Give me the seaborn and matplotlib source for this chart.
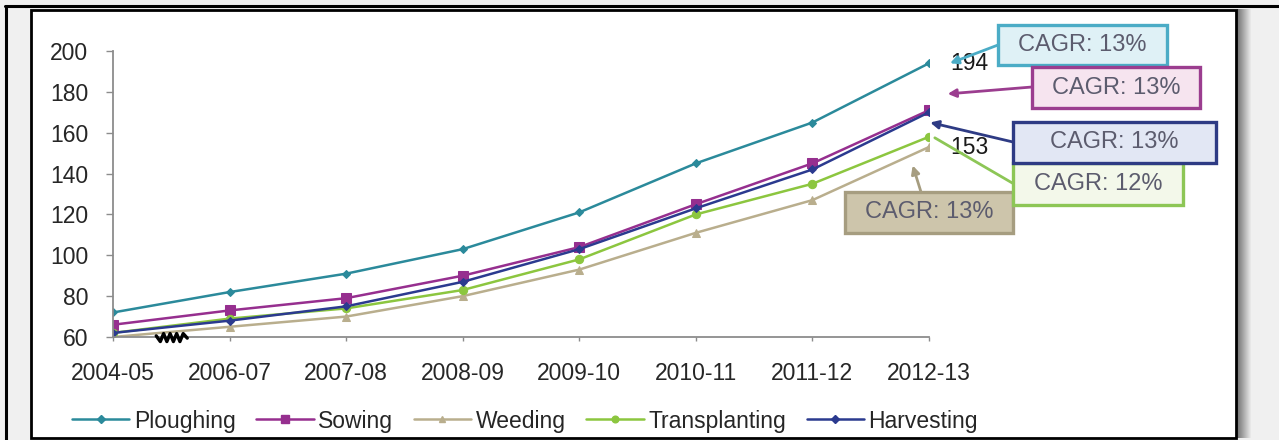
import matplotlib
matplotlib.use("Agg")
import matplotlib.pyplot as plt
from matplotlib.patches import Rectangle
from matplotlib.lines import Line2D
import numpy as np
import pandas as pd
import seaborn as sns

# ---- data -------------------------------------------------------------
periods = ['2004-05', '2006-07', '2007-08', '2008-09',
           '2009-10', '2010-11', '2011-12', '2012-13']
ploughing = [72, 82, 91, 103, 121, 145, 165, 194]
sowing = [66, 73, 79, 90, 104, 125, 145, 171]
weeding = [60, 65, 70, 80, 93, 111, 127, 153]
transplanting = [62, 69, 74, 83, 98, 120, 135, 158]
harvesting = [62, 68, 75, 87, 103, 123, 142, 170]

activities = ['Ploughing', 'Sowing', 'Weeding', 'Transplanting', 'Harvesting']
series = [ploughing, sowing, weeding, transplanting, harvesting]
colors = ['#2b8a9b', '#962f8f', '#b9ae8d', '#8cc63f', '#2b3a8f']
markers = ['D', 's', '^', 'o', 'D']
msizes = [4.5, 7, 5.5, 6, 4.5]

cagr_labels = ['CAGR: 13%', 'CAGR: 13%', 'CAGR: 13%', 'CAGR: 12%', 'CAGR: 13%']

df = pd.DataFrame({
    'period': periods * len(activities),
    'value': sum(series, []),
    'activity': np.repeat(activities, len(periods)),
})

# ---- figure and frame -------------------------------------------------
sns.set_style('white')
plt.rcParams['font.family'] = ['Liberation Sans', 'DejaVu Sans']

W, H = 1279, 440
fig = plt.figure(figsize=(W / 100, H / 100), dpi=100, facecolor='#f0f0f0')


def fx(px):
    return px / W


def fy(py):
    return 1 - py / H


# drop shadow on the right of the panel
for i in range(14):
    g = 0.45 + 0.035 * i
    fig.patches.append(Rectangle((fx(1237 + i), fy(438)), fx(1.2), 429 / H,
                                 transform=fig.transFigure,
                                 facecolor=(g, g, g), edgecolor='none', zorder=-3))
# white panel
fig.patches.append(Rectangle((fx(31), fy(438)), fx(1236 - 31), (438 - 10) / H,
                             transform=fig.transFigure, facecolor='white',
                             edgecolor='black', linewidth=2, zorder=-2))
# outer rule lines
fig.add_artist(Line2D([fx(6), fx(6)], [fy(6), 0], transform=fig.transFigure,
                      color='black', linewidth=2.2, zorder=-2))
fig.add_artist(Line2D([fx(5), 1], [fy(6), fy(6)], transform=fig.transFigure,
                      color='black', linewidth=2.2, zorder=-2))

# ---- axes -------------------------------------------------------------
ax = fig.add_axes([fx(113), fy(337), fx(929 - 113), (337 - 51) / H])
ax.set_facecolor('none')

for name, col, mk, ms in zip(activities, colors, markers, msizes):
    sns.lineplot(data=df[df['activity'] == name], x='period', y='value',
                 color=col, marker=mk, markersize=ms, markeredgecolor=col,
                 linewidth=1.8, sort=False, ax=ax, label=name, legend=False)

ax.set_xlim(0, len(periods) - 1)
ax.set_ylim(60, 200)
ax.set_yticks(range(60, 201, 20))
ax.set_xticks(range(len(periods)))
ax.set_xticklabels(periods)
ax.set_xlabel('')
ax.set_ylabel('')

for side in ('top', 'right'):
    ax.spines[side].set_visible(False)
for side in ('left', 'bottom'):
    ax.spines[side].set_color('#8c8c8c')
    ax.spines[side].set_linewidth(1.3)

ax.tick_params(axis='y', direction='out', length=5, width=1, color='#8c8c8c',
               pad=13, labelsize=16.5, labelcolor='#262626', left=True)
ax.tick_params(axis='x', direction='out', length=3, width=1, color='#8c8c8c',
               pad=15, labelsize=16.5, labelcolor='#262626', bottom=True)

# axis-break zigzag on the category axis
zz_x = [0.053, 0.058, 0.062, 0.066, 0.070, 0.074, 0.078, 0.082, 0.086, 0.091]
zz_y = [0.004, -0.016, 0.012, -0.016, 0.012, -0.016, 0.012, -0.016, 0.012, -0.004]
ax.plot(zz_x, zz_y, transform=ax.transAxes, color='black', linewidth=2.4,
        clip_on=False, zorder=6)

# end-point value labels
last = len(periods) - 1
ax.annotate(f'{ploughing[-1]}', xy=(last, ploughing[-1]), xytext=(21, 0),
            textcoords='offset pixels', va='center', ha='left',
            fontsize=16.5, color='#1a1a1a', annotation_clip=False, zorder=4)
ax.annotate(f'{weeding[-1]}', xy=(last, weeding[-1]), xytext=(21, 0),
            textcoords='offset pixels', va='center', ha='left',
            fontsize=16.5, color='#1a1a1a', annotation_clip=False, zorder=4)

# ---- CAGR callouts ----------------------------------------------------
# (box left, top, right, bottom) in pixels, arrow start in pixels,
# arrow tip in data units
callouts = [
    # Ploughing
    dict(box=(998, 25, 1167, 65), face='#dff1f6', edge='#4bacc6',
         start=(998, 45), tip=(7.18, 194), head=True, z=7),
    # Sowing
    dict(box=(1032, 67, 1200, 108), face='#f6e4ef', edge='#9b3d8f',
         start=(1032, 87), tip=(7.16, 179), head=True, z=7),
    # Weeding
    dict(box=(845, 192, 1013, 233), face='#cdc5ab', edge='#a69d80',
         start=(921, 192), tip=(6.86, 144), head=True, z=7),
    # Transplanting
    dict(box=(1013, 163, 1183, 205), face='#f3f8ea', edge='#8dc656',
         start=(1014, 184), tip=(7.05, 157.5), head=False, z=7.5),
    # Harvesting
    dict(box=(1013, 122, 1216, 163), face='#e2e7f4', edge='#2e3b84',
         start=(1013, 142), tip=(7.01, 165), head=True, z=8),
]

for c, text in zip(callouts, cagr_labels):
    x0, y0, x1, y1 = c['box']
    fig.patches.append(Rectangle((fx(x0), fy(y1)), fx(x1 - x0), (y1 - y0) / H,
                                 transform=fig.transFigure, facecolor=c['face'],
                                 edgecolor=c['edge'], linewidth=2.4,
                                 zorder=c['z']))
    fig.text(fx((x0 + x1) / 2), fy((y0 + y1) / 2), text, ha='center',
             va='center', fontsize=17, color='#5c5c6e', zorder=c['z'] + 0.1)
    ax.annotate('', xy=c['tip'], xycoords='data',
                xytext=(fx(c['start'][0]), fy(c['start'][1])),
                textcoords='figure fraction', annotation_clip=False,
                arrowprops=dict(arrowstyle='-|>' if c['head'] else '-',
                                color=c['edge'], lw=2, mutation_scale=12,
                                shrinkA=0, shrinkB=0), zorder=5)

# ---- legend -----------------------------------------------------------
handles = [Line2D([], [], color=col, marker=mk, markersize=ms * 0.8,
                  markeredgecolor=col, linewidth=1.8)
           for col, mk, ms in zip(colors, markers, msizes)]
fig.legend(handles, activities, loc='center', bbox_to_anchor=(fx(525), fy(421)),
           ncol=5, frameon=False, fontsize=16.5, handlelength=2.5,
           handletextpad=0.2, columnspacing=0.9, labelcolor='#262626')

fig.savefig('out.png', dpi=100, facecolor=fig.get_facecolor())
